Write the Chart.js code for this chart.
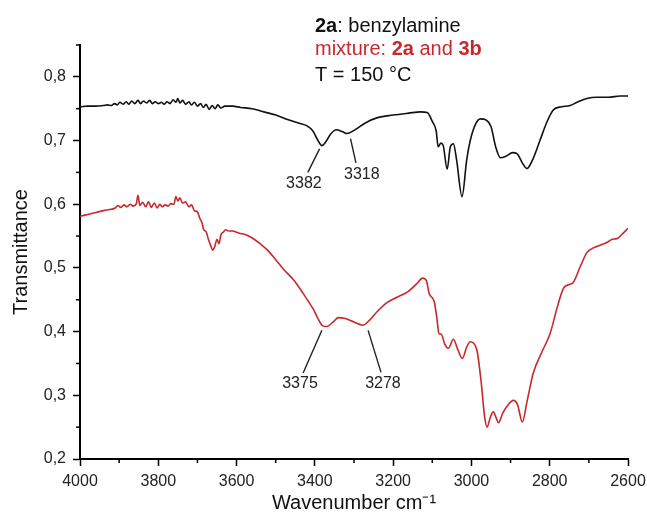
<!DOCTYPE html>
<html>
<head>
<meta charset="utf-8">
<script src="https://cdn.jsdelivr.net/npm/chart.js@4/dist/chart.umd.min.js"></script>
<style>
  html, body { margin: 0; padding: 0; background: #fff; }
  #wrap { width: 647px; height: 523px; }
</style>
</head>
<body>
<div id="wrap"><canvas id="myChart" width="647" height="523"></canvas></div>
<script>
// black: 2a benzylamine
const blackWn = [4000, 3980, 3960, 3940, 3930, 3920, 3912, 3905, 3898, 3890, 3882, 3875, 3868, 3860, 3852, 3845, 3838, 3830, 3822, 3815, 3808, 3800, 3792, 3785, 3778, 3770, 3762, 3755, 3750, 3745, 3738, 3730, 3722, 3715, 3708, 3700, 3692, 3685, 3678, 3670, 3662, 3655, 3648, 3640, 3630, 3610, 3590, 3560, 3530, 3500, 3470, 3440, 3420, 3405, 3392, 3382, 3372, 3360, 3345, 3330, 3318, 3300, 3270, 3240, 3200, 3160, 3130, 3113, 3100, 3090, 3085, 3078, 3072, 3062, 3054, 3046, 3038, 3024, 3012, 3003, 2990, 2977, 2962, 2950, 2938, 2926, 2910, 2895, 2883, 2870, 2858, 2845, 2825, 2808, 2791, 2770, 2748, 2730, 2705, 2680, 2650, 2620, 2600];
const blackT = [0.753, 0.754, 0.754, 0.755, 0.756, 0.755, 0.758, 0.756, 0.760, 0.757, 0.761, 0.757, 0.762, 0.758, 0.763, 0.758, 0.762, 0.759, 0.763, 0.758, 0.761, 0.758, 0.760, 0.757, 0.761, 0.758, 0.764, 0.760, 0.766, 0.759, 0.763, 0.757, 0.761, 0.756, 0.760, 0.754, 0.758, 0.752, 0.757, 0.749, 0.755, 0.750, 0.756, 0.751, 0.754, 0.754, 0.752, 0.750, 0.745, 0.740, 0.733, 0.727, 0.723, 0.715, 0.700, 0.692, 0.698, 0.710, 0.717, 0.714, 0.711, 0.716, 0.728, 0.736, 0.740, 0.743, 0.745, 0.744, 0.730, 0.715, 0.690, 0.696, 0.692, 0.655, 0.690, 0.695, 0.670, 0.612, 0.670, 0.700, 0.725, 0.734, 0.732, 0.722, 0.690, 0.673, 0.676, 0.681, 0.679, 0.665, 0.656, 0.668, 0.700, 0.728, 0.748, 0.753, 0.755, 0.760, 0.766, 0.768, 0.768, 0.770, 0.770];

// red: mixture 2a and 3b
const redWn = [4000, 3980, 3960, 3940, 3920, 3910, 3903, 3896, 3888, 3880, 3872, 3864, 3856, 3852, 3847, 3840, 3832, 3825, 3818, 3810, 3803, 3796, 3790, 3782, 3775, 3768, 3760, 3755, 3750, 3745, 3738, 3730, 3722, 3715, 3708, 3700, 3694, 3688, 3684, 3678, 3672, 3666, 3661, 3656, 3650, 3645, 3640, 3634, 3628, 3620, 3610, 3600, 3590, 3580, 3572, 3560, 3540, 3521, 3500, 3480, 3454, 3430, 3403, 3390, 3380, 3370, 3355, 3340, 3325, 3300, 3278, 3260, 3240, 3215, 3190, 3164, 3140, 3125, 3115, 3108, 3095, 3088, 3083, 3077, 3068, 3059, 3046, 3035, 3023, 3012, 3003, 2992, 2985, 2975, 2966, 2960, 2952, 2944, 2937, 2931, 2920, 2905, 2893, 2882, 2870, 2858, 2842, 2820, 2799, 2780, 2765, 2750, 2740, 2720, 2705, 2690, 2670, 2654, 2640, 2628, 2615, 2600];
const redT = [0.581, 0.584, 0.587, 0.590, 0.592, 0.594, 0.598, 0.595, 0.599, 0.596, 0.600, 0.597, 0.601, 0.614, 0.598, 0.603, 0.596, 0.604, 0.595, 0.602, 0.594, 0.600, 0.596, 0.599, 0.597, 0.601, 0.600, 0.612, 0.605, 0.610, 0.602, 0.604, 0.596, 0.599, 0.590, 0.588, 0.578, 0.570, 0.560, 0.557, 0.545, 0.535, 0.528, 0.533, 0.545, 0.538, 0.552, 0.556, 0.560, 0.558, 0.558, 0.556, 0.554, 0.553, 0.551, 0.547, 0.538, 0.528, 0.513, 0.498, 0.481, 0.460, 0.434, 0.418, 0.409, 0.408, 0.414, 0.422, 0.421, 0.415, 0.410, 0.418, 0.432, 0.446, 0.454, 0.462, 0.475, 0.484, 0.480, 0.460, 0.447, 0.420, 0.397, 0.396, 0.380, 0.374, 0.388, 0.372, 0.358, 0.376, 0.384, 0.380, 0.368, 0.320, 0.265, 0.250, 0.265, 0.274, 0.265, 0.257, 0.272, 0.286, 0.292, 0.285, 0.258, 0.290, 0.335, 0.368, 0.397, 0.440, 0.468, 0.474, 0.477, 0.505, 0.524, 0.531, 0.536, 0.540, 0.545, 0.546, 0.553, 0.562];

const xTicks = [4000, 3800, 3600, 3400, 3200, 3000, 2800, 2600];
const yTicks = [0.2, 0.3, 0.4, 0.5, 0.6, 0.7, 0.8];

// peak labels: [text, line start wn, line start T, line end wn, line end T, label wn, label T]
const peakLabels = [
  ["3382", 3388, 0.687, 3418, 0.650, 3428, 0.632],
  ["3318", 3309, 0.703, 3295, 0.665, 3280, 0.646],
  ["3375", 3382, 0.402, 3430, 0.335, 3438, 0.319],
  ["3278", 3264, 0.402, 3231, 0.336, 3226, 0.319],
];

const BLACK = "#111111";
const RED = "#c8282c";
const FONT = "'Liberation Sans', Arial, sans-serif";

function toPoints(xs, ys) {
  return xs.map((x, i) => ({ x: x, y: ys[i] }));
}

const extras = {
  id: "extras",
  afterDraw(chart) {
    const ctx = chart.ctx;
    const xs = chart.scales.x;
    const ys = chart.scales.y;
    const area = chart.chartArea;
    ctx.save();
    // minor ticks
    ctx.strokeStyle = "#000";
    ctx.lineWidth = 1.5;
    for (let w = 3900; w > 2600; w -= 200) {
      const px = xs.getPixelForValue(w);
      ctx.beginPath();
      ctx.moveTo(px, area.bottom);
      ctx.lineTo(px, area.bottom + 4);
      ctx.stroke();
    }
    for (let v = 0.25; v < 0.86; v += 0.1) {
      const py = ys.getPixelForValue(v);
      ctx.beginPath();
      ctx.moveTo(area.left, py);
      ctx.lineTo(area.left - 4, py);
      ctx.stroke();
    }
    // peak labels
    ctx.font = "16px " + FONT;
    ctx.fillStyle = "#222";
    ctx.strokeStyle = "#222";
    ctx.lineWidth = 1.4;
    ctx.textAlign = "center";
    ctx.textBaseline = "middle";
    peakLabels.forEach(p => {
      ctx.beginPath();
      ctx.moveTo(xs.getPixelForValue(p[1]), ys.getPixelForValue(p[2]));
      ctx.lineTo(xs.getPixelForValue(p[3]), ys.getPixelForValue(p[4]));
      ctx.stroke();
      ctx.fillText(p[0], xs.getPixelForValue(p[5]), ys.getPixelForValue(p[6]));
    });
    // header lines
    ctx.textAlign = "left";
    ctx.textBaseline = "alphabetic";
    const x0 = 315;
    const parts = [
      [[ "2a", true, BLACK ], [": benzylamine", false, BLACK ]],
      [[ "mixture: ", false, RED ], [ "2a", true, RED ], [ " and ", false, RED ], [ "3b", true, RED ]],
      [[ "T = 150 °C", false, BLACK ]],
    ];
    const baselines = [32, 55, 81];
    parts.forEach((line, i) => {
      let x = x0;
      line.forEach(seg => {
        ctx.font = (seg[1] ? "bold " : "") + "20px " + FONT;
        ctx.fillStyle = seg[2];
        ctx.fillText(seg[0], x, baselines[i]);
        x += ctx.measureText(seg[0]).width;
      });
    });
    ctx.restore();
  },
};

const ctx = document.getElementById("myChart");

const myChart = new Chart(ctx, {
  type: "line",
  plugins: [extras],
  data: {
    datasets: [
      {
        label: "2a: benzylamine",
        data: toPoints(blackWn, blackT),
        borderColor: BLACK,
        borderWidth: 1.6,
        pointRadius: 0,
        cubicInterpolationMode: "monotone",
      },
      {
        label: "mixture: 2a and 3b",
        data: toPoints(redWn, redT),
        borderColor: RED,
        borderWidth: 1.6,
        pointRadius: 0,
        cubicInterpolationMode: "monotone",
      },
    ],
  },
  options: {
    responsive: false,
    animation: false,
    layout: { padding: { top: 45, right: 19, left: 0, bottom: 0 } },
    plugins: {
      legend: { display: false },
      tooltip: { enabled: false },
    },
    scales: {
      x: {
        type: "linear",
        reverse: true,
        min: 2600,
        max: 4000,
        afterFit(scale) {
          scale.height = 64;
          scale.paddingLeft = 0;
          scale.paddingRight = 0;
        },
        afterBuildTicks(scale) { scale.ticks = xTicks.map(v => ({ value: v })); },
        border: { color: "#000", width: 2 },
        grid: { drawOnChartArea: false, drawTicks: true, tickLength: 7, tickColor: "#000", tickWidth: 1.5 },
        ticks: {
          color: "#222",
          font: { size: 16, family: FONT },
          padding: 6,
          maxRotation: 0,
          callback: v => String(v),
        },
        title: {
          display: true,
          text: "Wavenumber cm\u207B\u00B9",
          color: "#111",
          font: { size: 20, family: FONT },
          padding: { top: 0, bottom: 8 },
        },
      },
      y: {
        min: 0.2,
        max: 0.85,
        afterFit(scale) { scale.width = 80; },
        afterBuildTicks(scale) { scale.ticks = yTicks.map(v => ({ value: v })); },
        border: { color: "#000", width: 2 },
        grid: { drawOnChartArea: false, drawTicks: true, tickLength: 7, tickColor: "#000", tickWidth: 1.5 },
        ticks: {
          color: "#222",
          font: { size: 16, family: FONT },
          padding: 7,
          callback: v => v.toFixed(1).replace(".", ","),
        },
        title: {
          display: true,
          text: "Transmittance",
          color: "#111",
          font: { size: 20, family: FONT },
          padding: { top: 9, bottom: 0 },
        },
      },
    },
  },
});
</script>
</body>
</html>
